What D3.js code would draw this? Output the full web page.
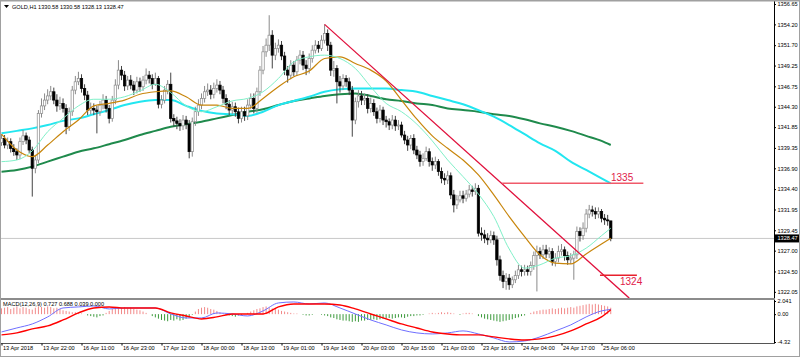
<!DOCTYPE html>
<html><head><meta charset="utf-8">
<script src="https://cdn.jsdelivr.net/npm/d3@7/dist/d3.min.js"></script>
<style>
body{margin:0;background:#fff;overflow:hidden}
text{font-family:"Liberation Sans",Arial,sans-serif}
</style>
</head><body>
<svg id="chart" width="800" height="357"></svg>
<script>
const symbol = "GOLD,H1";
const opens = [
1340.0,1340.5,1339.7,1340.1,1339.3,1338.9,1338.5,1340.1,1340.8,1340.3,
1339.1,1336.9,1337.9,1343.5,1344.4,1345.1,1345.6,1346.1,1345.1,1344.4,
1344.7,1344.1,1341.9,1343.7,1346.3,1347.3,1347.7,1346.5,1345.7,1343.9,
1344.1,1343.9,1343.7,1344.5,1345.1,1344.1,1342.9,1345.1,1346.9,1348.7,
1348.1,1346.8,1347.5,1346.9,1346.3,1347.3,1346.7,1347.5,1348.1,1347.7,
1347.0,1347.7,1344.6,1345.1,1346.3,1347.0,1342.9,1342.6,1342.3,1342.0,
1342.7,1342.2,1338.9,1342.5,1343.7,1344.5,1345.3,1346.1,1346.3,1345.8,
1346.5,1346.9,1346.3,1345.3,1344.6,1343.9,1344.3,1343.7,1342.9,1343.7,
1343.2,1344.5,1345.3,1344.1,1346.1,1348.7,1350.9,1351.7,1352.9,1350.5,
1351.3,1351.7,1350.4,1348.7,1348.1,1349.3,1348.5,1349.9,1350.5,1349.3,
1348.9,1350.1,1351.1,1351.7,1351.3,1352.3,1353.1,1351.7,1348.7,1348.9,
1347.3,1346.8,1347.7,1347.3,1346.3,1342.7,1344.9,1345.6,1345.1,1345.3,
1344.1,1344.7,1343.7,1342.9,1343.9,1342.7,1342.5,1342.1,1342.7,1342.0,
1342.1,1340.9,1340.3,1339.7,1340.5,1339.1,1338.5,1337.7,1338.1,1338.9,
1337.7,1337.3,1337.7,1336.5,1335.7,1335.5,1336.0,1333.7,1332.5,1333.1,
1333.6,1333.3,1333.8,1334.3,1334.1,1334.5,1329.1,1328.9,1328.5,1328.3,
1328.8,1328.3,1325.9,1324.0,1323.3,1323.7,1322.9,1323.5,1324.0,1324.7,
1324.5,1324.7,1324.5,1325.2,1326.4,1326.9,1326.5,1327.1,1326.6,1326.9,
1325.7,1326.1,1326.9,1327.1,1326.4,1325.9,1326.1,1326.5,1329.3,1328.8,
1329.7,1331.4,1331.9,1331.7,1331.4,1331.7,1330.9,1330.7,1330.58];
const highs = [
1341.0,1340.9,1340.6,1340.5,1339.8,1339.3,1340.6,1341.5,1341.2,1340.7,
1339.5,1338.4,1343.9,1345.3,1345.9,1346.4,1346.8,1346.6,1345.8,1345.5,
1345.3,1344.6,1344.2,1346.8,1348.0,1348.5,1348.2,1347.0,1346.2,1344.8,
1344.7,1344.4,1345.0,1345.8,1345.6,1344.5,1345.6,1347.6,1349.9,1349.2,
1348.6,1348.0,1348.1,1347.4,1347.9,1347.8,1348.0,1348.9,1348.6,1348.2,
1348.4,1348.0,1345.7,1346.8,1347.5,1348.4,1343.4,1343.1,1342.8,1343.3,
1343.2,1342.7,1343.0,1344.3,1345.2,1345.9,1346.8,1347.1,1346.9,1347.2,
1347.6,1347.4,1346.8,1345.8,1345.1,1344.9,1344.8,1344.2,1344.3,1344.3,
1345.2,1345.9,1345.9,1346.6,1349.2,1351.6,1352.5,1355.3,1353.5,1352.0,
1352.4,1352.2,1350.9,1349.2,1349.9,1349.8,1350.4,1351.1,1351.0,1349.9,
1350.7,1351.7,1352.3,1352.2,1352.9,1354.2,1353.6,1352.1,1349.8,1349.3,
1348.0,1348.2,1348.1,1347.8,1346.8,1345.4,1346.3,1346.2,1345.9,1345.8,
1345.4,1345.2,1344.2,1344.5,1344.3,1343.2,1342.9,1343.3,1343.2,1342.7,
1342.5,1341.4,1340.8,1340.9,1341.0,1339.6,1339.0,1338.7,1339.5,1339.3,
1338.2,1338.3,1338.0,1337.0,1336.3,1336.6,1336.4,1334.3,1333.7,1334.2,
1334.2,1334.3,1334.9,1334.8,1335.1,1334.9,1329.8,1329.5,1329.1,1329.4,
1329.3,1328.8,1326.4,1324.6,1324.3,1324.2,1323.9,1324.6,1325.3,1325.2,
1325.3,1325.2,1325.7,1326.9,1327.6,1327.4,1327.7,1327.7,1327.4,1327.3,
1326.7,1327.6,1327.8,1327.5,1326.9,1326.7,1327.0,1329.9,1329.8,1330.4,
1332.0,1332.5,1332.4,1332.2,1332.2,1332.0,1331.4,1331.3,1330.58];
const lows = [
1339.6,1339.3,1339.2,1338.8,1338.4,1337.9,1338.0,1339.7,1339.8,1338.7,
1333.5,1336.3,1337.5,1343.0,1343.9,1344.6,1345.1,1344.6,1343.7,1343.9,
1343.6,1341.0,1341.4,1343.2,1345.8,1346.9,1346.0,1345.1,1343.3,1343.4,
1343.3,1341.1,1343.2,1344.0,1343.6,1342.3,1342.5,1344.6,1346.4,1347.5,
1346.2,1346.3,1346.4,1345.7,1345.9,1346.1,1346.2,1347.0,1347.1,1346.4,
1346.8,1344.1,1344.1,1344.7,1345.8,1342.4,1341.9,1341.6,1341.4,1341.5,
1341.6,1338.1,1338.3,1342.0,1343.2,1344.0,1344.8,1345.6,1345.2,1345.3,
1346.0,1345.8,1344.7,1344.0,1343.3,1343.4,1343.1,1342.3,1342.4,1342.6,
1342.7,1344.0,1343.5,1343.6,1345.6,1348.2,1350.3,1351.0,1348.9,1349.9,
1350.8,1349.9,1348.1,1347.2,1347.6,1348.0,1348.0,1349.4,1348.7,1348.1,
1348.3,1349.6,1350.7,1350.8,1351.0,1351.9,1351.0,1348.0,1347.9,1344.7,
1346.0,1346.3,1346.7,1345.7,1340.7,1342.2,1344.2,1344.5,1344.5,1343.5,
1343.6,1343.2,1342.3,1342.4,1342.1,1341.8,1341.5,1341.6,1341.4,1341.5,
1340.6,1339.8,1339.0,1339.2,1338.6,1338.0,1337.1,1337.2,1337.8,1337.1,
1336.6,1336.8,1336.0,1335.1,1334.9,1335.0,1333.2,1331.6,1332.0,1332.8,
1332.7,1332.9,1333.4,1333.5,1333.7,1328.7,1328.2,1327.9,1327.7,1327.9,
1327.7,1325.2,1323.4,1322.5,1322.3,1322.3,1322.5,1323.1,1323.6,1323.9,
1324.0,1324.0,1324.0,1324.7,1322.1,1326.0,1326.0,1326.1,1326.1,1325.2,
1325.1,1325.6,1326.4,1325.8,1325.3,1325.4,1323.5,1326.0,1328.1,1328.3,
1329.2,1330.9,1331.1,1330.8,1330.9,1330.4,1330.1,1330.0,1328.13];
const closes = [
1340.5,1339.7,1340.1,1339.3,1338.9,1338.5,1340.1,1340.8,1340.3,1339.1,
1336.9,1337.9,1343.5,1344.4,1345.1,1345.6,1346.1,1345.1,1344.4,1344.7,
1344.1,1341.9,1343.7,1346.3,1347.3,1347.7,1346.5,1345.7,1343.9,1344.1,
1343.9,1343.7,1344.5,1345.1,1344.1,1342.9,1345.1,1346.9,1348.7,1348.1,
1346.8,1347.5,1346.9,1346.3,1347.3,1346.7,1347.5,1348.1,1347.7,1347.0,
1347.7,1344.6,1345.1,1346.3,1347.0,1342.9,1342.6,1342.3,1342.0,1342.7,
1342.2,1338.9,1342.5,1343.7,1344.5,1345.3,1346.1,1346.3,1345.8,1346.5,
1346.9,1346.3,1345.3,1344.6,1343.9,1344.3,1343.7,1342.9,1343.7,1343.2,
1344.5,1345.3,1344.1,1346.1,1348.7,1350.9,1351.7,1352.9,1350.5,1351.3,
1351.7,1350.4,1348.7,1348.1,1349.3,1348.5,1349.9,1350.5,1349.3,1348.9,
1350.1,1351.1,1351.7,1351.3,1352.3,1353.1,1351.7,1348.7,1348.9,1347.3,
1346.8,1347.7,1347.3,1346.3,1342.7,1344.9,1345.6,1345.1,1345.3,1344.1,
1344.7,1343.7,1342.9,1343.9,1342.7,1342.5,1342.1,1342.7,1342.0,1342.1,
1340.9,1340.3,1339.7,1340.5,1339.1,1338.5,1337.7,1338.1,1338.9,1337.7,
1337.3,1337.7,1336.5,1335.7,1335.5,1336.0,1333.7,1332.5,1333.1,1333.6,
1333.3,1333.8,1334.3,1334.1,1334.5,1329.1,1328.9,1328.5,1328.3,1328.8,
1328.3,1325.9,1324.0,1323.3,1323.7,1322.9,1323.5,1324.0,1324.7,1324.5,
1324.7,1324.5,1325.2,1326.4,1326.9,1326.5,1327.1,1326.6,1326.9,1325.7,
1326.1,1326.9,1327.1,1326.4,1325.9,1326.1,1326.5,1329.3,1328.8,1329.7,
1331.4,1331.9,1331.7,1331.4,1331.7,1330.9,1330.7,1330.6,1328.47];

// moving averages sampled at bar indices
const maIdx = [0,5,10,15,20,25,30,35,40,45,50,55,60,65,70,75,80,85,90,95,100,105,110,115,120,125,130,135,140,145,150,155,160,165,170,175,180,185,190,195,198];
const maFast = [1337.7,1337.9,1339.0,1341.3,1342.9,1344.4,1345.2,1345.2,1345.5,1346.2,1347.0,1346.0,1344.4,1343.7,1344.3,1345.0,1345.3,1346.1,1347.7,1349.7,1350.3,1350.5,1350.1,1348.9,1346.7,1344.7,1343.7,1342.2,1340.2,1337.9,1335.9,1333.8,1331.1,1327.2,1324.9,1325.3,1326.1,1326.4,1327.3,1328.8,1329.7];
const maMid = [1341.0,1339.1,1338.3,1339.7,1341.3,1342.7,1344.4,1344.7,1345.1,1345.8,1346.1,1346.2,1345.5,1344.5,1344.5,1344.1,1344.1,1345.3,1346.7,1347.9,1348.6,1350.1,1350.3,1349.5,1348.7,1347.4,1345.1,1342.8,1340.8,1339.3,1337.9,1336.1,1333.7,1331.1,1328.7,1326.5,1325.5,1325.4,1326.6,1327.8,1328.5];
const maSlow = [1341.1,1341.4,1341.7,1342.1,1342.6,1342.9,1343.4,1343.9,1344.5,1344.9,1345.1,1345.1,1344.4,1343.8,1343.5,1343.4,1343.2,1343.7,1344.5,1345.0,1345.5,1346.1,1346.4,1346.5,1346.5,1346.5,1346.3,1346.1,1345.6,1345.1,1344.6,1343.9,1343.1,1342.1,1341.0,1339.9,1339.0,1337.7,1336.7,1335.7,1335.1];
const maLong = [1336.5,1336.7,1337.1,1337.7,1338.3,1338.9,1339.3,1339.8,1340.3,1340.9,1341.4,1341.9,1342.2,1342.5,1342.9,1343.3,1343.7,1344.0,1344.5,1345.0,1345.3,1345.6,1345.8,1345.9,1345.6,1345.2,1345.0,1344.7,1344.5,1344.1,1343.9,1343.7,1343.4,1343.2,1342.8,1342.3,1341.9,1341.4,1340.8,1340.2,1339.7];

// MACD sampled at bar indices (same as maIdx)
const macdMain = [-2.76,-2.14,-1.52,-0.43,0.96,1.12,1.27,0.81,0.96,0.96,0.96,0.03,-0.59,-0.59,0.19,0.03,-0.28,0.50,1.74,1.89,1.58,1.74,0.96,0.03,-0.90,-1.67,-2.45,-2.91,-3.07,-2.91,-2.60,-3.07,-3.69,-4.31,-4.16,-3.53,-2.60,-1.67,-0.43,0.50,0.73];
const macdSignal = [-3.22,-2.91,-2.29,-1.83,-0.90,0.19,0.96,1.12,0.96,0.96,0.96,0.19,-0.28,-0.74,-0.43,0.03,0.03,0.03,1.12,1.58,1.58,1.58,1.43,0.81,0.03,-0.74,-1.52,-2.14,-2.76,-3.07,-3.22,-3.22,-3.53,-3.84,-4.00,-3.84,-3.38,-2.60,-1.52,-0.43,0.69];
const macdHist = [
0.9,1.0,1.1,0.8,1.0,1.2,0.9,1.1,1.0,0.8,
0.7,1.0,1.2,1.1,1.0,1.2,1.1,0.9,1.0,0.8,
0.6,0.5,0.4,0.3,0.3,0.2,0.1,0.0,-0.2,-0.3,
-0.4,-0.5,-0.3,-0.2,0.2,0.5,0.8,1.0,1.1,1.0,
1.1,0.9,1.0,0.8,0.7,0.6,0.4,0.2,0.0,-0.3,
-0.5,-0.7,-0.9,-1.0,-1.1,-0.9,-1.0,-0.8,-1.0,-0.9,
-0.7,-0.5,-0.1,0.4,0.8,1.0,1.1,1.0,0.8,0.7,
0.5,0.3,0.1,-0.1,-0.2,-0.3,-0.4,-0.2,-0.1,0.0,
0.2,0.4,0.6,0.8,0.9,1.1,1.2,1.0,0.9,0.8,
0.7,0.5,0.4,0.3,0.2,0.1,0.1,0.0,-0.1,-0.2,
-0.2,-0.1,0.0,0.0,-0.1,-0.2,-0.3,-0.5,-0.6,-0.8,
-0.9,-1.0,-1.0,-1.1,-1.2,-1.1,-1.2,-1.0,-1.0,-0.9,
-0.9,-0.8,-0.9,-0.8,-0.7,-0.7,-0.6,-0.7,-0.6,-0.5,
-0.5,-0.6,-0.4,-0.3,-0.3,-0.2,-0.2,-0.1,0.0,0.1,
0.2,0.1,0.2,0.3,0.2,0.3,0.2,0.1,0.0,-0.1,
0.1,0.2,0.2,0.1,0.0,-0.3,-0.5,-0.7,-0.8,-0.9,
-1.0,-1.1,-1.2,-1.1,-1.0,-0.9,-0.8,-0.6,-0.5,-0.3,
-0.2,0.0,0.2,0.4,0.5,0.6,0.7,0.7,0.8,0.9,
0.8,0.9,1.0,0.9,1.0,1.1,1.0,1.2,1.3,1.4,
1.5,1.6,1.5,1.6,1.5,1.4,1.3,1.2,1.0];
const macdLabel = "MACD(12,26,9) 0.727 0.688 0.039 0.000";

const priceTicks = [1356.65,1354.20,1351.70,1349.25,1346.75,1344.30,1341.85,1339.35,1336.90,1334.40,1331.95,1329.45,1327.00,1324.50,1322.05];
const macdTicks = [2.041,0.00,-4.32];
const macdTickLabels = ["2.041","0.00","-4.32"];
const timeIdx = [0,13,26,39,52,65,78,91,104,117,130,143,156,169,182,195];
const timeLabels = ["13 Apr 2018","13 Apr 22:00","16 Apr 11:00","16 Apr 23:00","17 Apr 12:00","18 Apr 00:00","18 Apr 13:00","19 Apr 01:00","19 Apr 14:00","20 Apr 03:00","20 Apr 15:00","21 Apr 03:00","23 Apr 16:00","24 Apr 04:00","24 Apr 17:00","25 Apr 06:00"];

// drawn objects
const trendIdx = [105, 204];
const trendPrice = [1354.2, 1321.3];
const levelPrices = [1335.1, 1324.05];
const levelStart = [162.7, 194.5];
const levelEnd = [208.6, 206.5];
const levelLabels = ["1335", "1324"];

// ---------- drawing ----------
const svg = d3.select("#chart");
const W = 800, H = 357;
const axisX = 774;
const mainTop = 0, mainBottom = 298;
const macdTop = 301, macdBottom = 342;

const x = d3.scaleLinear().domain([0, 198]).range([1.5, 1.5 + 198 * 3.077]);
const y = d3.scaleLinear().domain([1321.31, 1357.13]).range([mainBottom, mainTop]);
const ym = d3.scaleLinear().domain([-4.32, 2.041]).range([macdBottom, macdTop]);

svg.append("rect").attr("width", W).attr("height", H).attr("fill", "#fff");

const defs = svg.append("defs");
defs.append("clipPath").attr("id","clipMain").append("rect").attr("x",0).attr("y",0).attr("width",axisX).attr("height",mainBottom);
defs.append("clipPath").attr("id","clipMacd").append("rect").attr("x",0).attr("y",300).attr("width",axisX).attr("height",43);

const main = svg.append("g").attr("clip-path","url(#clipMain)");

// current price line
const last = closes.length - 1;
main.append("line").attr("x1",0).attr("x2",axisX)
  .attr("y1", y(closes[last])).attr("y2", y(closes[last]))
  .attr("stroke","#c8c8c8").attr("stroke-width",1);

// moving averages
const maLine = (vals) => d3.line().x((d,i)=>x(maIdx[i])).y(d=>y(d)).curve(d3.curveMonotoneX)(vals);
main.append("path").attr("d", maLine(maLong)).attr("fill","none").attr("stroke","#1f8a4c").attr("stroke-width",2);
main.append("path").attr("d", maLine(maSlow)).attr("fill","none").attr("stroke","#22e6f0").attr("stroke-width",2);

// candles
const data = closes.map((c,i)=>({i, o:opens[i], h:highs[i], l:lows[i], c}));
const cg = main.append("g");
cg.selectAll("line.wick").data(data).join("line")
  .attr("x1", d=>x(d.i)).attr("x2", d=>x(d.i))
  .attr("y1", d=>y(d.h)).attr("y2", d=>y(d.l))
  .attr("stroke", d=> d.c >= d.o ? "#8a8a8a" : "#444").attr("stroke-width",1);
cg.selectAll("rect.body").data(data).join("rect")
  .attr("x", d=>x(d.i)-1.2).attr("width",2.4)
  .attr("y", d=>y(Math.max(d.o,d.c)))
  .attr("height", d=>Math.max(1, Math.abs(y(d.o)-y(d.c))))
  .attr("fill", d=> d.c >= d.o ? "#fff" : "#000")
  .attr("stroke", d=> d.c >= d.o ? "#8a8a8a" : "#000").attr("stroke-width",0.7);

main.append("path").attr("d", maLine(maMid)).attr("fill","none").attr("stroke","#c8860c").attr("stroke-width",1.2);
main.append("path").attr("d", maLine(maFast)).attr("fill","none").attr("stroke","#7ff0c8").attr("stroke-width",1);

// trend line
main.append("line")
  .attr("x1", x(trendIdx[0])).attr("y1", y(trendPrice[0]))
  .attr("x2", x(trendIdx[1])).attr("y2", y(trendPrice[1]))
  .attr("stroke","#e0103c").attr("stroke-width",1.3);

// level lines
levelPrices.forEach((p,k)=>{
  main.append("line").attr("x1", x(levelStart[k])).attr("x2", x(levelEnd[k]))
    .attr("y1", y(p)).attr("y2", y(p)).attr("stroke", k===0 ? "#f05a6a" : "#e8202c").attr("stroke-width",1.5);
});
svg.append("text").attr("x", 611).attr("y", y(levelPrices[0]) - 2).text(levelLabels[0])
  .attr("fill","#e0204a").attr("font-size",10);
svg.append("text").attr("x", 620).attr("y", y(levelPrices[1]) + 10).text(levelLabels[1])
  .attr("fill","#e0204a").attr("font-size",10);

// title
const f2 = d3.format(".2f");
svg.append("path").attr("d","M4,5 L9,5 L6.5,8 Z").attr("fill","#000");
svg.append("text").attr("x", 12).attr("y", 8.5).attr("font-size",5.6).attr("fill","#000")
  .text(`${symbol}  ${f2(opens[last])} ${f2(highs[last])} ${f2(lows[last])} ${f2(closes[last])}`);

// price axis
const ya = svg.append("g").attr("transform",`translate(${axisX},0)`)
  .call(d3.axisRight(y).tickValues(priceTicks).tickSize(2).tickPadding(1.5).tickFormat(f2));
ya.select(".domain").remove();
ya.selectAll("text").attr("font-size",5.6).attr("fill","#000").attr("font-family","Liberation Sans, Arial, sans-serif");
ya.selectAll("line").attr("stroke","#000");

// current price box
svg.append("rect").attr("x", axisX+1).attr("y", y(closes[last])-4).attr("width", 25).attr("height", 8).attr("fill","#000");
svg.append("text").attr("x", axisX+3.5).attr("y", y(closes[last])+2).attr("font-size",5.6).attr("fill","#fff").text(f2(closes[last]));

// MACD panel
const mg = svg.append("g").attr("clip-path","url(#clipMacd)");
mg.selectAll("line.hist").data(macdHist).join("line")
  .attr("x1", (d,i)=>x(i)).attr("x2",(d,i)=>x(i))
  .attr("y1", ym(0)).attr("y2", d=>ym(d))
  .attr("stroke", d=> d >= 0 ? "#f28a8a" : "#3c9a3c").attr("stroke-width",1);
const mLine = (vals) => d3.line().x((d,i)=>x(maIdx[i])).y(d=>ym(d)).curve(d3.curveMonotoneX)(vals);
mg.append("path").attr("d", mLine(macdMain)).attr("fill","none").attr("stroke","#6f6fff").attr("stroke-width",1);
mg.append("path").attr("d", mLine(macdSignal)).attr("fill","none").attr("stroke","#ff0000").attr("stroke-width",1.4);
svg.append("text").attr("x",3).attr("y",306).attr("font-size",5.6).attr("fill","#000").text(macdLabel);

const ma = svg.append("g").attr("transform",`translate(${axisX},0)`)
  .call(d3.axisRight(ym).tickValues(macdTicks).tickSize(2).tickPadding(1.5).tickFormat((d,i)=>macdTickLabels[i]));
ma.select(".domain").remove();
ma.selectAll("text").attr("font-size",5.6).attr("fill","#000").attr("font-family","Liberation Sans, Arial, sans-serif");
ma.selectAll("line").attr("stroke","#000");

// frames
svg.append("line").attr("x1",axisX+0.5).attr("x2",axisX+0.5).attr("y1",0).attr("y2",343.5).attr("stroke","#000").attr("stroke-width",1);
svg.append("line").attr("x1",0).attr("x2",axisX+1).attr("y1",299).attr("y2",299).attr("stroke","#8c8c8c").attr("stroke-width",2);
svg.append("line").attr("x1",0).attr("x2",axisX+1).attr("y1",343.5).attr("y2",343.5).attr("stroke","#555").attr("stroke-width",1);
svg.append("rect").attr("x",0.5).attr("y",0.5).attr("width",W-1).attr("height",H-1).attr("fill","none").attr("stroke","#a0a0a0").attr("stroke-width",1);
svg.append("line").attr("x1",0).attr("x2",W).attr("y1",1).attr("y2",1).attr("stroke","#a0a0a0");

// time axis
const xa = svg.append("g").attr("transform","translate(0,343.5)")
  .call(d3.axisBottom(x).tickValues(timeIdx).tickSize(2).tickFormat((d,i)=>timeLabels[i]));
xa.select(".domain").remove();
xa.selectAll("line").attr("stroke","#000");
xa.selectAll("text").attr("font-size",5.6).attr("fill","#000").attr("text-anchor","start").attr("dx",1).attr("dy",1.5)
  .attr("font-family","Liberation Sans, Arial, sans-serif");
</script>
</body></html>
